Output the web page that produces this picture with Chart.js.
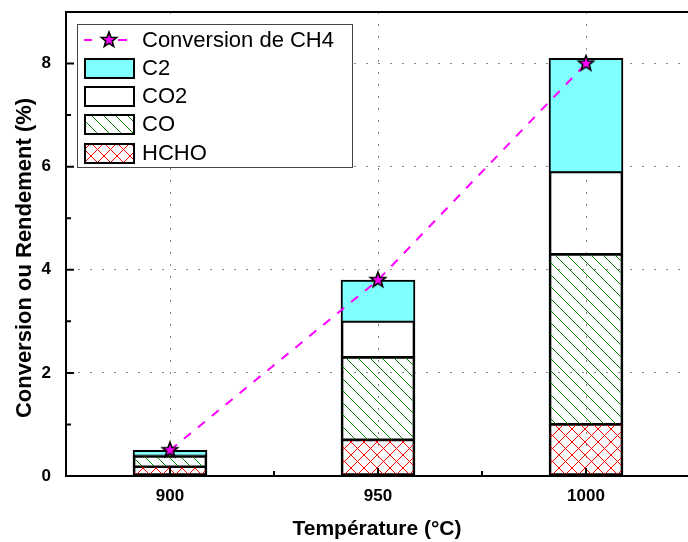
<!DOCTYPE html>
<html>
<head>
<meta charset="utf-8">
<script src="https://cdn.jsdelivr.net/npm/chart.js@4"></script>
<style>
  html, body { margin: 0; padding: 0; background: #fff; overflow: hidden; }
  #wrap { width: 700px; height: 542px; }
</style>
</head>
<body>
<div id="wrap"><canvas id="c"></canvas></div>
<script>
// ---------- DATA ----------
const temperatures = [900, 950, 1000];
const hcho = [0.18, 0.7, 1.0];
const co = [0.2, 1.6, 3.3];
const co2 = [0.02, 0.7, 1.6];
const c2 = [0.1, 0.8, 2.2];
const conversion = [0.5, 3.8, 8.0];
const yTicks = [0, 2, 4, 6, 8];
const yMinorTicks = [1, 3, 5, 7];
const xMinorTicks = [925, 975];

// ---------- PATTERNS ----------
function makePattern(size, draw) {
    const cv = document.createElement("canvas");
    cv.width = size;
    cv.height = size;
    const g = cv.getContext("2d");
    draw(g, size);
    return g.createPattern(cv, "repeat");
}

const coPattern = makePattern(12, (g, s) => {
    g.strokeStyle = "#008000";
    g.lineWidth = 1;
    g.beginPath();
    g.moveTo(-1, -1); g.lineTo(s + 1, s + 1);
    g.moveTo(-1, s - 1); g.lineTo(1, s + 1);
    g.moveTo(s - 1, -1); g.lineTo(s + 1, 1);
    g.stroke();
});

const hchoPattern = makePattern(13, (g, s) => {
    g.strokeStyle = "#ff0000";
    g.lineWidth = 1;
    g.beginPath();
    g.moveTo(0, 0); g.lineTo(s, s);
    g.moveTo(s, 0); g.lineTo(0, s);
    g.stroke();
});

function starImage(r) {
    const cv = document.createElement("canvas");
    const size = Math.ceil(r * 2 + 4);
    cv.width = size;
    cv.height = size;
    const g = cv.getContext("2d");
    drawStar(g, size / 2, size / 2, r);
    return cv;
}
function drawStar(g, cx, cy, r) {
    g.beginPath();
    for (let i = 0; i < 10; i++) {
        const rr = i % 2 === 0 ? r : r * 0.42;
        const a = -Math.PI / 2 + i * Math.PI / 5;
        const x = cx + rr * Math.cos(a), y = cy + rr * Math.sin(a);
        i === 0 ? g.moveTo(x, y) : g.lineTo(x, y);
    }
    g.closePath();
    g.fillStyle = "#ff00ff";
    g.fill();
    g.strokeStyle = "#000";
    g.lineWidth = 1.6;
    g.stroke();
}
const star = starImage(8);

// ---------- DATASETS ----------
const pts = arr => temperatures.map((t, i) => ({ x: t, y: arr[i] }));
const barBase = { type: "bar", stack: "bars", barThickness: 74, borderColor: "#000", borderSkipped: false, order: 2 };
const edge = (top, bottom) => ({ top, bottom, left: 2, right: 2 });

const datasets = [
    {
        type: "line", label: "Conversion de CH4", data: pts(conversion), stack: "conv", order: 1,
        borderColor: "#ff00ff", borderWidth: 2, borderDash: [9, 9], pointStyle: star, pointRadius: 8, fill: false
    },
    { ...barBase, label: "HCHO", data: pts(hcho), backgroundColor: hchoPattern, borderWidth: edge(1, 2) },
    { ...barBase, label: "CO", data: pts(co), backgroundColor: coPattern, borderWidth: edge(1, 1) },
    { ...barBase, label: "CO2", data: pts(co2), backgroundColor: "rgba(255,255,255,0)", legendFill: "#fff", borderWidth: edge(1, 1) },
    { ...barBase, label: "C2", data: pts(c2), backgroundColor: "#80ffff", borderWidth: edge(2, 1) }
];

// ---------- PLUGINS ----------
const framePlugin = {
    id: "frame",
    afterDatasetsDraw(chart) {
        const { ctx, chartArea: a, scales: { x, y } } = chart;
        ctx.save();
        ctx.strokeStyle = "#000";
        ctx.lineWidth = 2;
        // inward ticks
        ctx.beginPath();
        yTicks.forEach(v => { const p = y.getPixelForValue(v); ctx.moveTo(a.left, p); ctx.lineTo(a.left + 8, p); });
        yMinorTicks.forEach(v => { const p = y.getPixelForValue(v); ctx.moveTo(a.left, p); ctx.lineTo(a.left + 5, p); });
        temperatures.forEach(v => { const p = x.getPixelForValue(v); ctx.moveTo(p, a.bottom); ctx.lineTo(p, a.bottom - 8); });
        xMinorTicks.forEach(v => { const p = x.getPixelForValue(v); ctx.moveTo(p, a.bottom); ctx.lineTo(p, a.bottom - 5); });
        ctx.stroke();
        // frame
        ctx.beginPath();
        ctx.rect(a.left, a.top, a.right - a.left, a.bottom - a.top);
        ctx.stroke();
        ctx.restore();
    },
    afterDraw(chart) {
        const { ctx, chartArea: a } = chart;
        ctx.save();
        ctx.fillStyle = "#000";
        ctx.font = "bold 21px Arial, 'Liberation Sans', sans-serif";
        ctx.textAlign = "center";
        ctx.textBaseline = "middle";
        ctx.fillText("Température (°C)", (a.left + a.right) / 2 - 1, 529);
        ctx.translate(25, 258);
        ctx.rotate(-Math.PI / 2);
        ctx.font = "bold 22px Arial, 'Liberation Sans', sans-serif";
        ctx.fillText("Conversion ou Rendement (%)", 0, 0);
        ctx.restore();
    }
};

const legendPlugin = {
    id: "boxLegend",
    afterDraw(chart) {
        const ctx = chart.ctx;
        const ds = chart.data.datasets;
        const order = [0, 4, 3, 2, 1];
        const rowY = [40, 68, 96, 124, 153];
        ctx.save();
        ctx.fillStyle = "#fff";
        ctx.fillRect(77, 24, 275, 143);
        ctx.strokeStyle = "#444";
        ctx.lineWidth = 1;
        ctx.strokeRect(77.5, 24.5, 275, 143);
        ctx.font = "22px Arial, 'Liberation Sans', sans-serif";
        ctx.textBaseline = "middle";
        order.forEach((idx, r) => {
            const d = ds[idx];
            const cy = rowY[r];
            if (d.type === "line") {
                ctx.strokeStyle = d.borderColor;
                ctx.lineWidth = 2;
                ctx.beginPath();
                ctx.moveTo(84, cy); ctx.lineTo(92, cy);
                ctx.moveTo(118, cy); ctx.lineTo(127, cy);
                ctx.stroke();
                drawStar(ctx, 109, cy, 8);
            } else {
                ctx.fillStyle = d.legendFill || d.backgroundColor;
                ctx.fillRect(85, cy - 9, 49, 19);
                ctx.strokeStyle = "#000";
                ctx.lineWidth = 2;
                ctx.strokeRect(85, cy - 9, 49, 19);
            }
            ctx.fillStyle = "#000";
            ctx.fillText(d.label, 142, cy + 1);
        });
        ctx.restore();
    }
};

// ---------- CHART ----------
const gridStyle = { color: "#8a8a8a", lineWidth: 1, drawTicks: false, offset: false };
const borderStyle = { display: false, dash: [2, 10] };
const tickFont = { family: "Arial, 'Liberation Sans', sans-serif", size: 17, weight: "bold" };

new Chart(document.getElementById("c"), {
    data: { datasets },
    options: {
        responsive: true,
        maintainAspectRatio: false,
        animation: false,
        layout: { padding: { left: 0, top: 12, right: 4, bottom: 0 } },
        plugins: { legend: { display: false }, tooltip: { enabled: false } },
        scales: {
            x: {
                type: "linear", min: 875, max: 1025, stacked: true, offset: false,
                grid: gridStyle, border: borderStyle,
                afterBuildTicks: s => { s.ticks = temperatures.map(v => ({ value: v })); },
                afterFit: s => { s.height = 66; s.paddingLeft = 0; s.paddingRight = 0; },
                ticks: { color: "#000", font: tickFont, padding: 10, maxRotation: 0, callback: v => String(v) }
            },
            y: {
                min: 0, max: 9, stacked: true,
                grid: gridStyle, border: borderStyle,
                afterBuildTicks: s => { s.ticks = yTicks.map(v => ({ value: v })); },
                afterFit: s => { s.width = 66; s.paddingTop = 0; s.paddingBottom = 0; },
                ticks: { color: "#000", font: tickFont, padding: 15 }
            }
        }
    },
    plugins: [framePlugin, legendPlugin]
});
</script>
</body>
</html>
